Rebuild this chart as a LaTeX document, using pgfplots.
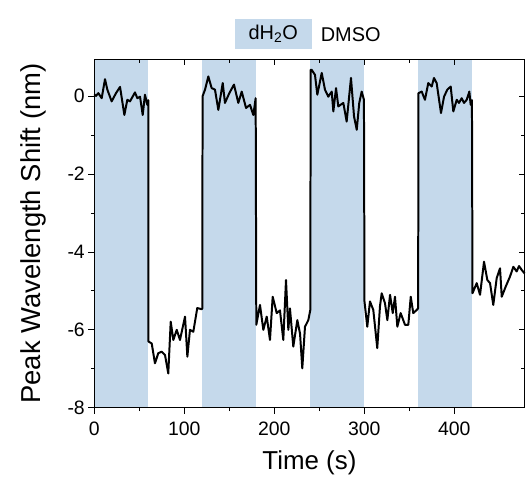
\documentclass[border=0pt]{standalone}
\usepackage{pgfplots}
\pgfplotsset{compat=1.18}
\usepackage{fontspec}
\setmainfont{Liberation Sans}
\definecolor{band}{RGB}{197,217,235}
\newcommand\tickfont{\fontsize{19.5}{22}\selectfont}
\newcommand\xlabfont{\fontsize{26}{30}\selectfont}
\newcommand\ylabfont{\fontsize{27.5}{31}\selectfont}
\newcommand\legfont{\fontsize{20}{24}\selectfont}

\begin{document}
\begin{tikzpicture}
\pgfplotsset{
  frame/.style={
    scale only axis, width=430.2bp, height=348.4bp,
    xmin=0, xmax=478, ymin=-8, ymax=0.95,
    xtick={0,100,200,300,400}, minor x tick num=1,
    ytick={-8,-6,-4,-2,0}, minor y tick num=1,
    major tick length=6bp, minor tick length=3.5bp,
    tick style={line width=0.9pt, black},
    axis line style={line width=1pt},
  }
}
\begin{axis}[frame,
    axis on top, clip=false,
    tick align=outside, xtick pos=left, ytick pos=left,
    yticklabels={-8,-6,-4,-2,0},
    /pgf/number format/assume math mode=true,
    tick label style={font=\tickfont},
    xticklabel style={yshift=-5bp},
    xlabel={Time (s)}, ylabel={Peak Wavelength Shift (nm)},
    xlabel style={font=\xlabfont, yshift=-8bp},
    ylabel style={font=\ylabfont, yshift=14bp},
]
  % dH2O intervals
  \addplot[draw=none, fill=band] coordinates {(0,-8) (0,0.95) (60,0.95) (60,-8)} -- cycle;
  \addplot[draw=none, fill=band] coordinates {(120,-8) (120,0.95) (180,0.95) (180,-8)} -- cycle;
  \addplot[draw=none, fill=band] coordinates {(240,-8) (240,0.95) (300,0.95) (300,-8)} -- cycle;
  \addplot[draw=none, fill=band] coordinates {(360,-8) (360,0.95) (420,0.95) (420,-8)} -- cycle;

  % peak shift trace
  \addplot[black, line width=2pt, line join=round] coordinates {
    (0,0.05) (1.9,0.01) (4.5,0.08) (8.2,-0.05) (11.9,0.44) (14.5,0.17) (19.3,-0.13)
    (24.1,0.08) (28.6,0.24) (33.4,-0.48) (36.7,-0.09) (39.7,-0.13) (45.2,0.10)
    (47.8,-0.05) (50.8,-0.01) (53.8,-0.48) (56.3,0.04) (58.9,-0.22) (60,-0.1)
    (60.2,-6.3) (63.8,-6.35) (67.4,-6.86) (71.1,-6.60) (74.9,-6.56) (78.6,-6.65)
    (82.2,-7.12) (84.9,-5.79) (87.8,-6.26) (91.6,-6.00) (95.2,-6.26) (100.8,-5.66)
    (103.4,-6.69) (106.3,-6.00) (110,-6.05) (114.4,-5.44) (119.3,-5.47) (120,-5.45)
    (120.3,0.0) (123,0.17) (126.7,0.51) (130.4,0.21) (134.1,0.17) (137.8,-0.35)
    (142.7,0.34) (145.2,-0.17) (150,0.08) (155.2,0.30) (160,-0.17) (163.8,0.12)
    (168.6,-0.30) (173,-0.22) (176.7,-0.48) (179.3,-0.05)
    (180,-5.87) (184.1,-5.36) (187.8,-6.00) (191.6,-5.66) (195.2,-6.26) (198.2,-5.15)
    (202.7,-5.57) (206.3,-5.50) (210,-6.26) (213,-4.72) (215.6,-6.00) (217.4,-5.45)
    (221.1,-6.43) (225.6,-5.75) (228.6,-6.1) (231.1,-6.99) (234.1,-5.92) (237.8,-5.75)
    (240,-5.49)
    (240.4,0.68) (241.5,0.68) (245.2,0.55) (247.8,0.04) (252.7,0.60) (256.3,0.17)
    (260,-0.01) (263.8,0.12) (265.6,-0.39) (268.6,0.21) (271.1,-0.26) (276.7,-0.17)
    (280.4,-0.65) (285.2,0.47) (288.6,-0.52) (291.6,-0.86) (294.4,-0.17) (297.1,0.12)
    (299.6,-0.09)
    (300.2,-5.27) (303.3,-5.92) (306.3,-5.27) (310,-5.49) (314.4,-6.47) (317.4,-5.40)
    (319.3,-5.06) (323,-5.32) (325.6,-5.75) (328.6,-5.10) (331.6,-5.57) (334.1,-5.15)
    (336.7,-5.92) (340.4,-5.57) (345.2,-5.87) (348.9,-5.87) (351.6,-5.15) (354.4,-5.57)
    (358.2,-5.49) (359.8,-5.45)
    (360.2,0.08) (363.8,0.12) (367.4,-0.09) (371.1,0.34) (374.9,0.25) (377.4,0.47)
    (380.4,0.34) (385.2,-0.43) (388.6,-0.01) (392.2,0.17) (396,0.25) (398.9,-0.39)
    (402.7,-0.09) (405.2,-0.17) (408.2,-0.05) (410.8,-0.17) (413.8,-0.09) (416.7,0.12)
    (418.2,-0.22) (419.6,-0.1)
    (420.2,-5.06) (424.9,-4.80) (428.6,-5.10) (433,-4.25) (436.7,-4.72) (439.7,-4.80)
    (443.3,-5.36) (447.1,-4.67) (450.8,-4.42) (452.7,-5.15) (457.1,-4.89) (461.9,-4.63)
    (465.6,-4.38) (469.3,-4.50) (471.9,-4.36) (474.9,-4.46) (478,-4.55)
  };

  % legend
  \node[fill=band, minimum width=76.7bp, minimum height=30.3bp, inner sep=0pt, font=\legfont]
    at (rel axis cs:0.416,1.072) {dH\textsubscript{2}O};
  \node[font=\legfont] at (rel axis cs:0.596,1.072) {DMSO};
\end{axis}

% mirrored ticks, pointing inward
\begin{axis}[frame,
    tick align=inside, xtick pos=right, ytick pos=right,
    xticklabels={}, yticklabels={},
]
\end{axis}

\pgfresetboundingbox
\path (-94.3bp,-69.3bp) rectangle (434.7bp,407.7bp);
\end{tikzpicture}
\end{document}
